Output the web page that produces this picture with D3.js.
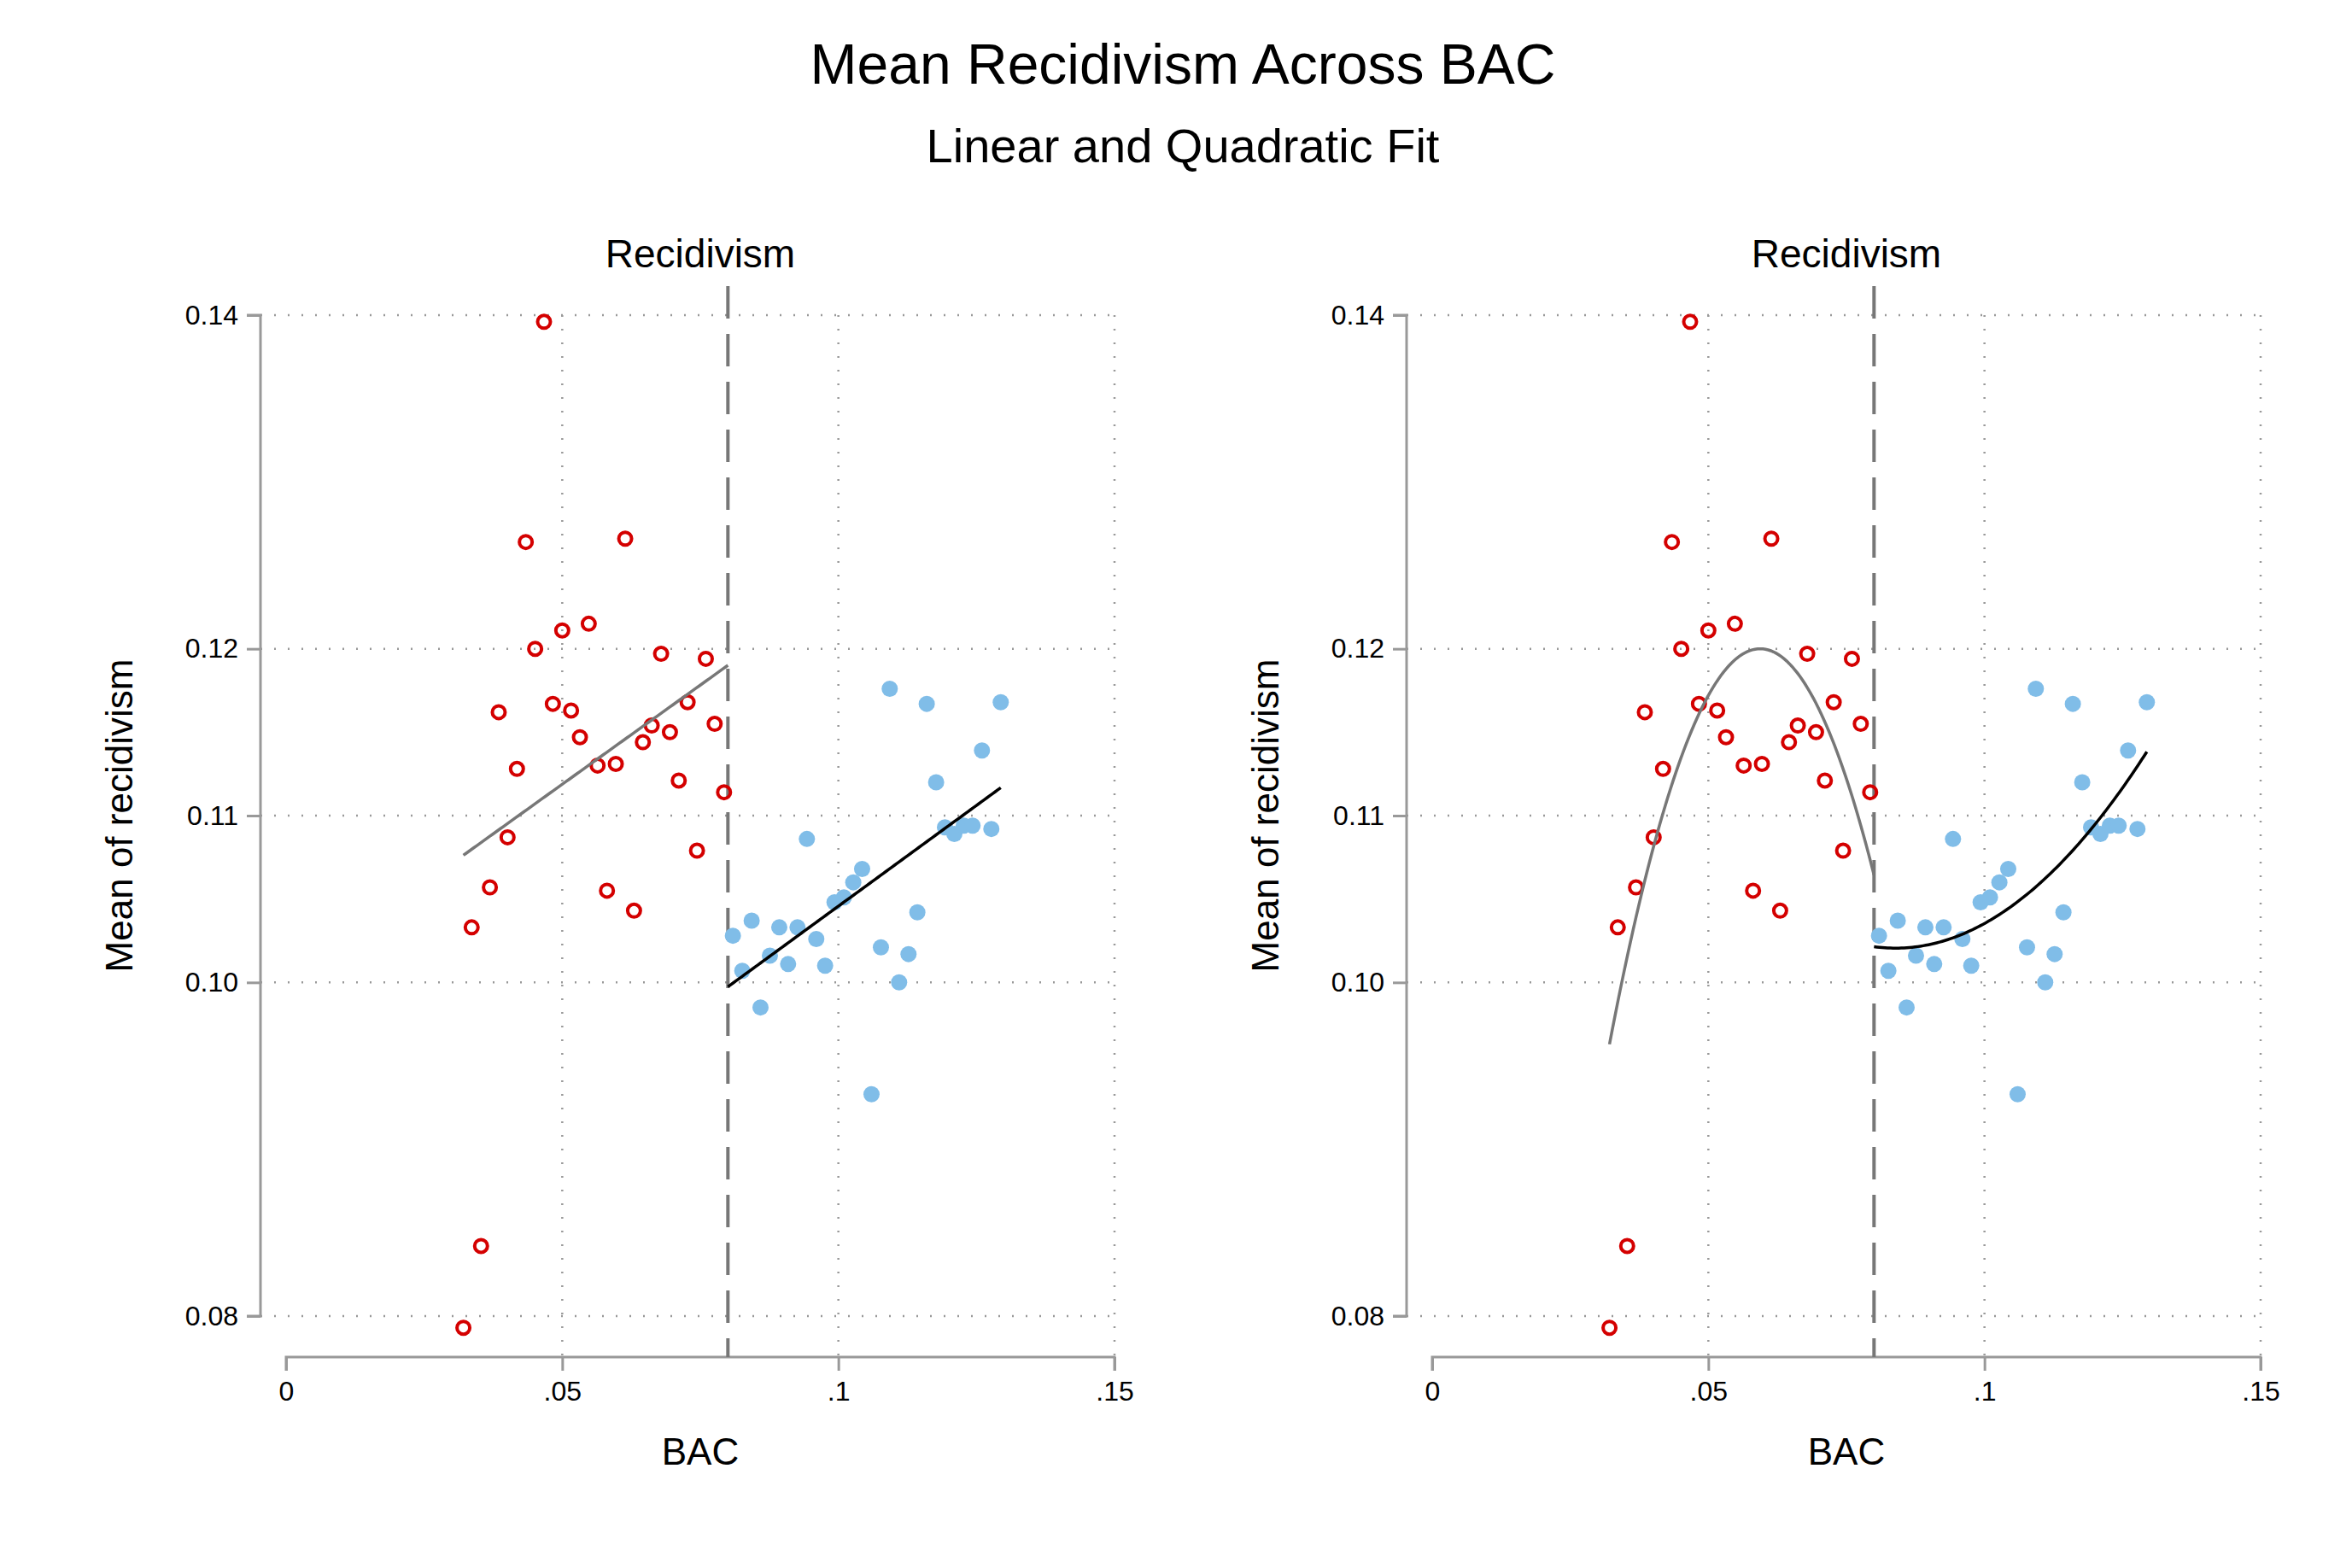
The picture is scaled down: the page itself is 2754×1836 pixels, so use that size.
<!DOCTYPE html>
<html><head><meta charset="utf-8">
<script src="https://cdn.jsdelivr.net/npm/d3@7"></script>
<style>body{margin:0;background:#fff}text{font-family:"Liberation Sans",Arial,sans-serif;fill:#000}</style>
</head><body><svg id="c" width="2754" height="1836"></svg>
<script>
const redX=[.0467,.0434,.0614,.05,.0548,.0451,.0679,.0760,.0385,.0483,.0516,.0727,.0662,.0776,.0532,.0695,.0646,.0418,.0564,.0597,.0711,.0793,.0401,.0744,.0369,.0581,.0630,.0336,.0353,.0321];
const redY=[.1396,.1264,.1266,.1211,.1215,.1200,.1197,.1194,.1162,.1167,.1163,.1168,.1154,.1155,.1147,.1150,.1144,.1128,.1130,.1131,.1121,.1114,.1087,.1079,.1057,.1055,.1043,.1033,.0842,.0793];
const blueX=[.0809,.0843,.0826,.0859,.0876,.0893,.0909,.0926,.0943,.0960,.0976,.0993,.1010,.1027,.1043,.1060,.1077,.1093,.1110,.1127,.1143,.1160,.1177,.1193,.1210,.1227,.1243,.1260,.1277,.1294];
const blueY=[.1028,.1037,.1007,.0985,.1016,.1033,.1011,.1033,.1086,.1026,.1010,.1048,.1051,.1060,.1068,.0933,.1021,.1176,.1000,.1017,.1042,.1167,.1120,.1093,.1089,.1094,.1094,.1139,.1092,.1168];
const yTicks=[0.08,0.10,0.11,0.12,0.14];
const yTickLabels=["0.08","0.10","0.11","0.12","0.14"];
const xTicks=[0,.05,.1,.15];
const xTickLabels=["0",".05",".1",".15"];
const cutoff=0.08;
const panelTitles=["Recidivism","Recidivism"];
const fitDegrees=[1,2];

function polyfit(xs,ys,deg){
  const n=deg+1, A=[];
  for(let i=0;i<n;i++){A.push(new Array(n+1).fill(0));}
  xs.forEach((x,k)=>{for(let i=0;i<n;i++){for(let j=0;j<n;j++)A[i][j]+=Math.pow(x,i+j);A[i][n]+=ys[k]*Math.pow(x,i);}});
  for(let i=0;i<n;i++){let p=i;for(let r=i+1;r<n;r++)if(Math.abs(A[r][i])>Math.abs(A[p][i]))p=r;const t=A[i];A[i]=A[p];A[p]=t;
    for(let r=0;r<n;r++){if(r===i)continue;const f=A[r][i]/A[i][i];for(let c=i;c<=n;c++)A[r][c]-=f*A[i][c];}}
  const c=A.map((row,i)=>row[n]/row[i]);
  return x=>c.reduce((s,ci,i)=>s+ci*Math.pow(x,i),0);
}

const svg=d3.select("#c");
svg.append("text").attr("x",1385).attr("y",98).attr("text-anchor","middle").attr("font-size",66).text("Mean Recidivism Across BAC");
svg.append("text").attr("x",1385).attr("y",190).attr("text-anchor","middle").attr("font-size",56).text("Linear and Quadratic Fit");

const red=d3.zip(redX,redY), blue=d3.zip(blueX,blueY);
const panelX0=[335,1677];

panelX0.forEach((x0,pi)=>{
  const g=svg.append("g");
  const x=d3.scaleLinear().domain([0,.15]).range([x0,x0+970]);
  const y=d3.scaleLinear().domain([0.08,0.14]).range([1541,369]);
  const axX=x0-30;
  // grid horizontal
  yTicks.forEach(t=>g.append("line").attr("x1",axX).attr("x2",x(.15)).attr("y1",y(t)).attr("y2",y(t))
    .attr("stroke","#999").attr("stroke-width",2.5).attr("stroke-dasharray","2,14"));
  xTicks.slice(1).forEach(t=>g.append("line").attr("x1",x(t)).attr("x2",x(t)).attr("y1",y(0.14)).attr("y2",1589)
    .attr("stroke","#999").attr("stroke-width",2.5).attr("stroke-dasharray","2,14"));
  // y axis
  const ya=g.append("g").attr("transform",`translate(${axX},0)`)
    .call(d3.axisLeft(y).tickValues(yTicks).tickFormat((d,i)=>yTickLabels[i]).tickSize(16).tickPadding(10));
  ya.select(".domain").attr("stroke","#999").attr("stroke-width",3).attr("d",`M-16,${y(.14)}H0V${y(.08)}H-16`);
  ya.selectAll(".tick line").attr("stroke","#999").attr("stroke-width",3);
  ya.selectAll("text").attr("font-size",32).attr("font-family","Liberation Sans, Arial");
  // x axis
  const xa=g.append("g").attr("transform","translate(0,1589)")
    .call(d3.axisBottom(x).tickValues(xTicks).tickFormat((d,i)=>xTickLabels[i]).tickSize(16).tickPadding(12));
  xa.select(".domain").attr("stroke","#999").attr("stroke-width",3).attr("d",`M${x(0)},16V0H${x(.15)}V16`);
  xa.selectAll(".tick line").attr("stroke","#999").attr("stroke-width",3);
  xa.selectAll("text").attr("font-size",32).attr("font-family","Liberation Sans, Arial");
  // labels
  g.append("text").attr("x",x(.075)).attr("y",1715).attr("text-anchor","middle").attr("font-size",44).text("BAC");
  g.append("text").attr("transform",`translate(${axX-150},${y(.11)}) rotate(-90)`).attr("text-anchor","middle").attr("font-size",44).text("Mean of recidivism");
  g.append("text").attr("x",x(.075)).attr("y",313).attr("text-anchor","middle").attr("font-size",46).text(panelTitles[pi]);
  // cutoff
  g.append("line").attr("x1",x(cutoff)).attr("x2",x(cutoff)).attr("y1",335).attr("y2",1589)
    .attr("stroke","#777").attr("stroke-width",4).attr("stroke-dasharray","38,18");
  // points
  g.selectAll(".r").data(red).join("circle").attr("cx",d=>x(d[0])).attr("cy",d=>y(d[1])).attr("r",7.5)
    .attr("fill","none").attr("stroke","#d40000").attr("stroke-width",4);
  g.selectAll(".b").data(blue).join("circle").attr("cx",d=>x(d[0])).attr("cy",d=>y(d[1])).attr("r",9.5)
    .attr("fill","#80bde8");
  // fits
  const deg=fitDegrees[pi];
  const fl=polyfit(redX,redY,deg), fr=polyfit(blueX,blueY,deg);
  const line=d3.line().x(d=>x(d[0])).y(d=>y(d[1]));
  const segL=d3.range(0,101).map(i=>{const v=d3.min(redX)+(cutoff-d3.min(redX))*i/100;return [v,fl(v)];});
  const segR=d3.range(0,101).map(i=>{const v=cutoff+(d3.max(blueX)-cutoff)*i/100;return [v,fr(v)];});
  g.append("path").attr("d",line(segL)).attr("fill","none").attr("stroke","#777").attr("stroke-width",3.5);
  g.append("path").attr("d",line(segR)).attr("fill","none").attr("stroke","#000").attr("stroke-width",3.5);
});
</script></body></html>
